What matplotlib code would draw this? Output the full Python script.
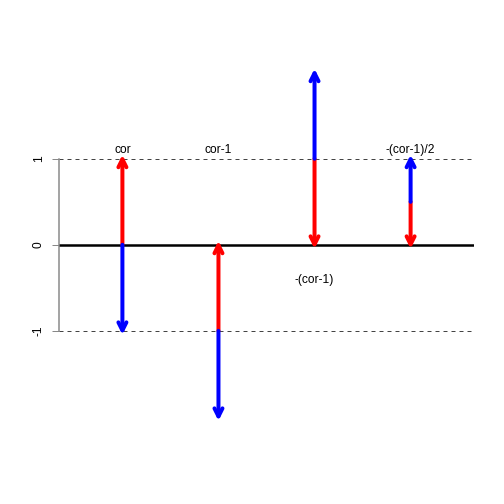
import matplotlib
matplotlib.use("Agg")
import matplotlib.pyplot as plt
from matplotlib.transforms import offset_copy

xs = [1, 2, 3, 4]
starts = [0, -1, 1, 0.5]
red_ends = [1, 0, 0, 0]
blue_ends = [-1, -2, 2, 1]
labels = ["cor", "cor-1", "-(cor-1)", "-(cor-1)/2"]
label_y = [1.067, 1.067, -0.444, 1.067]
yticks = [-1, 0, 1]

plt.rcParams['font.family'] = ['Liberation Sans', 'DejaVu Sans']

fig = plt.figure(figsize=(7, 7), dpi=72)
W = H = 504
left, right, bottom, top = 59, 474, 430.6, 59
ax = fig.add_axes([left / W, (H - bottom) / H, (right - left) / W, (bottom - top) / H])
ax.set_xlim(0.34, 4.66)
ax.set_ylim(-2.16, 2.16)

for s in ['top', 'right', 'bottom']:
    ax.spines[s].set_visible(False)
ax.spines['left'].set_bounds(-1, 1)
ax.spines['left'].set_color('#888888')
ax.spines['left'].set_linewidth(1.5)
ax.set_xticks([])
ax.set_yticks(yticks)
ax.set_yticklabels([str(v) for v in yticks], rotation=90, va='center', fontsize=12)
ax.tick_params(axis='y', length=7, width=1, color='#888888', pad=7)

for yv in [1, -1]:
    ax.axhline(yv, color='#444444', lw=1, dashes=(4, 4))
ax.axhline(0, color='black', lw=2.5)

def arrow(x, y0, y1, color):
    d = 4 if y1 > y0 else -4
    tip_tr = offset_copy(ax.transData, fig=fig, x=0, y=d, units='points')
    ax.annotate('', xy=(x, y1), xycoords=tip_tr, xytext=(x, y0), textcoords='data',
                arrowprops=dict(arrowstyle='->,head_length=0.8,head_width=0.4',
                                color=color, lw=4, shrinkA=0, shrinkB=0,
                                mutation_scale=10, capstyle='round',
                                joinstyle='round'))

for x, s, r, b in zip(xs, starts, red_ends, blue_ends):
    arrow(x, s, r, 'red')
    arrow(x, s, b, 'blue')

for x, t, ly in zip(xs, labels, label_y):
    ax.text(x, ly, t, ha='center', va='baseline', fontsize=12)

fig.savefig('out.png', dpi=72)
